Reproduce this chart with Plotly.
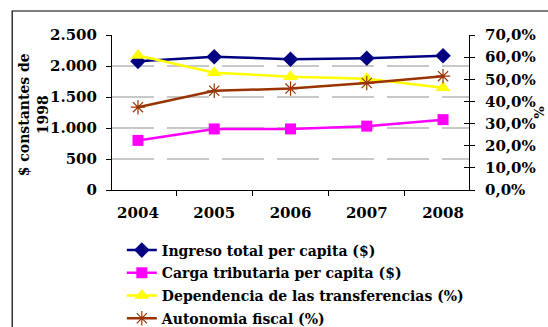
import plotly.graph_objects as go

# Years and series
years = ["2004", "2005", "2006", "2007", "2008"]
ingreso_total = [2075, 2150, 2110, 2125, 2165]          # $ constantes de 1998
carga_tributaria = [800, 985, 985, 1030, 1135]          # $ constantes de 1998
dependencia = [0.607, 0.530, 0.512, 0.502, 0.462]       # share
autonomia = [0.374, 0.448, 0.458, 0.483, 0.514]         # share

W, H = 548, 327
ML, MR, MT, MB = 112, 73, 35, 137
FONT = "DejaVu Serif"


def px_x(px):
    return (px - ML) / (W - ML - MR)


def px_y(py):
    return (H - MB - py) / (H - MT - MB)


fig = go.Figure()
fig.add_trace(go.Scatter(
    x=years, y=ingreso_total, name="Ingreso total per capita ($)",
    mode="lines+markers", line=dict(color="#000080", width=2.5),
    marker=dict(symbol="diamond", size=12, color="#000080"),
    legendgroup="a"))
fig.add_trace(go.Scatter(
    x=years, y=carga_tributaria, name="Carga tributaria per capita ($)",
    mode="lines+markers", line=dict(color="#FF00FF", width=2.5),
    marker=dict(symbol="square", size=11, color="#FF00FF"),
    legendgroup="b"))
fig.add_trace(go.Scatter(
    x=years, y=dependencia, name="Dependencia de las transferencias (%)",
    mode="lines+markers", line=dict(color="#FFFF00", width=2.5),
    marker=dict(symbol="triangle-up", size=13, color="#FFFF00"),
    legendgroup="c", yaxis="y2"))
fig.add_trace(go.Scatter(
    x=years, y=autonomia, name="Autonomia fiscal (%)",
    mode="lines+markers", line=dict(color="#993300", width=2.5),
    marker=dict(symbol="asterisk-open", size=12, color="#993300",
                line=dict(color="#993300", width=1.2)),
    legendgroup="d", yaxis="y2"))
# invisible trace carrying the inner tick marks of the right axis
fig.add_trace(go.Scatter(x=years, y=autonomia, yaxis="y3", mode="none",
                         showlegend=False, hoverinfo="skip"))

tick_font = dict(family=FONT, size=15, color="black", weight="bold")

fig.update_layout(
    width=W, height=H,
    margin=dict(l=ML, r=MR, t=MT, b=MB),
    paper_bgcolor="white", plot_bgcolor="white",
    separators=",.",
    font=dict(family=FONT, size=14, color="black", weight="bold"),
    xaxis=dict(type="category", categoryorder="array", categoryarray=years,
               tickson="boundaries", ticks="outside", ticklen=5,
               tickcolor="black", showline=True, linecolor="black",
               linewidth=1, showgrid=False, tickfont=tick_font,
               ticklabelstandoff=9, zeroline=False),
    yaxis=dict(range=[0, 2500], dtick=500, tickformat=",d",
               ticks="outside", ticklen=5, tickcolor="black",
               showline=True, linecolor="black", linewidth=1,
               showgrid=True, gridcolor="#c8c8c8", gridwidth=2,
               griddash="42px,13px", zeroline=False, tickfont=tick_font,
               ticklabelstandoff=6),
    yaxis2=dict(range=[0, 0.7], dtick=0.1, tickformat=".1%",
                overlaying="y", side="right", ticks="outside", ticklen=5,
                tickcolor="black", showline=True, linecolor="black",
                linewidth=1, showgrid=False, zeroline=False,
                tickfont=tick_font, ticklabelstandoff=7),
    yaxis3=dict(range=[0, 0.7], dtick=0.1, overlaying="y", side="right",
                ticks="inside", ticklen=5, tickcolor="black",
                showticklabels=False, showgrid=False, zeroline=False,
                showline=False),
    legend=dict(xref="paper", yref="container",
                x=px_x(122), y=1 - 234.5 / H, xanchor="left", yanchor="top",
                traceorder="grouped", tracegroupgap=1.5,
                font=dict(family=FONT, size=14, color="black",
                          weight="bold"),
                bgcolor="rgba(0,0,0,0)", itemwidth=30),
    showlegend=True,
)

# left axis title (two lines) and right axis title
fig.add_annotation(text="$ constantes de<br>1998", xref="paper",
                   yref="paper", x=px_x(32), y=px_y(115), textangle=-90,
                   showarrow=False,
                   font=dict(family=FONT, size=14, weight="bold"),
                   xanchor="center", yanchor="middle")
fig.add_annotation(text="%", xref="paper", yref="paper",
                   x=px_x(545), y=px_y(113), textangle=90, showarrow=False,
                   font=dict(family=FONT, size=13, weight="bold"),
                   xanchor="center", yanchor="middle")

# chart frame
fig.add_shape(type="rect", xref="paper", yref="paper",
              x0=px_x(10.5), x1=px_x(600), y0=px_y(400), y1=px_y(11),
              line=dict(color="black", width=1.2), layer="below")

fig.write_html("out.html")
